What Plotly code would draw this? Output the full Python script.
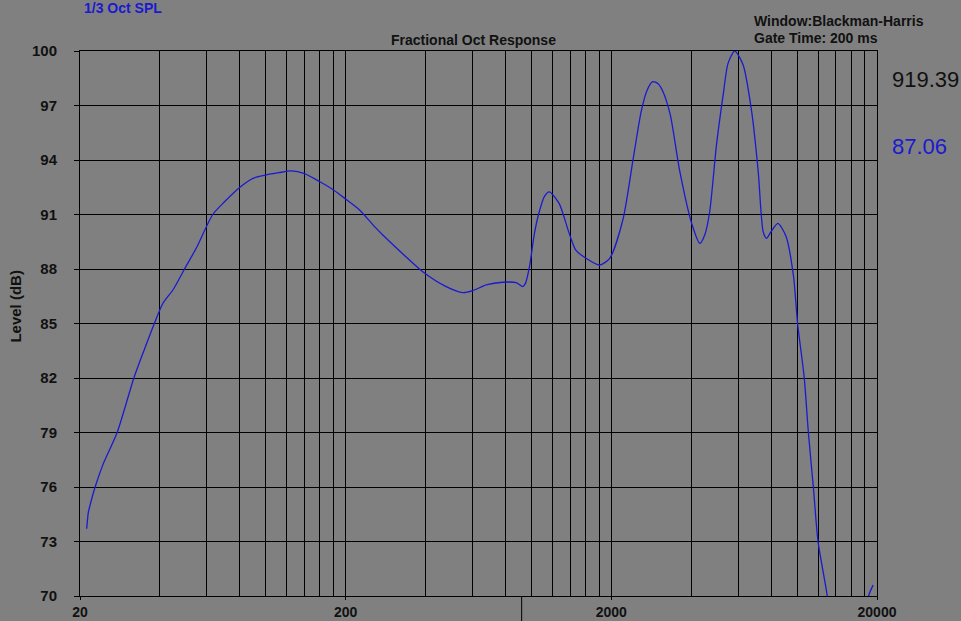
import plotly.graph_objects as go

# frequency (Hz) and level (dB)
freq = [21.2, 21.5, 22.0, 22.8, 24.5, 27.6, 31.9, 35.0, 38.1, 41.0, 45.0, 49.5,
        55.0, 63.2, 70, 80, 90, 100, 112, 125, 140, 160, 180, 200,
        225.6, 257, 276, 330, 390, 478, 552, 602, 676, 780, 877, 928, 950, 984,
        1027, 1071, 1120, 1168, 1272, 1388, 1470, 1606, 1806, 1972, 2214, 2419, 2590,
        2720, 2860, 3000, 3130, 3334, 3622, 4030, 4308, 4500, 4690, 4975, 5272, 5500, 5830, 6268,
        6750, 7144, 7458, 7680, 7980, 8470, 9100, 9700, 10050, 10650, 11040,
        11520, 12000, 12980, 14000, 16000, 18000, 18600, 19340]
level = [73.7, 74.6, 75.2, 76.0, 77.3, 79.0, 82.0, 83.6, 85.0, 86.1, 86.9, 88.0,
         89.2, 91.0, 91.7, 92.5, 93.0, 93.17, 93.3, 93.4, 93.25, 92.8, 92.35, 91.85,
         91.25, 90.33, 89.87, 88.8, 87.85, 87.03, 86.7, 86.81, 87.12, 87.27, 87.25, 87.03, 87.21, 88.13,
         89.96, 91.15, 92.0, 92.25, 91.61, 89.96, 89.04, 88.59, 88.22, 88.59, 90.75, 94.1, 96.66,
         97.8, 98.31, 98.2, 97.76, 96.48, 93.36, 90.42, 89.41, 89.9, 91.15, 94.82, 97.58, 99.32, 100.0, 99.23,
         96.66, 93.36, 90.05, 89.69, 90.05, 90.51, 89.78, 87.6, 85.0, 81.98, 78.95,
         76.0, 72.99, 70.05, 66.0, 63.0, 67.0, 70.0, 70.6]

major_ticks = [20, 200, 2000, 20000]
minor_ticks = [20 * k for k in range(2, 10)] + [200 * k for k in range(2, 10)] + [2000 * k for k in range(2, 10)]
y_ticks = list(range(70, 101, 3))

cursor_freq = 919.39
cursor_level = 87.06

BG = "#808080"
BLUE = "#1a1ad0"
FONT = "Liberation Sans, Arial, sans-serif"


def make_fig():
    fig = go.Figure()
    fig.add_trace(go.Scatter(x=freq, y=level, mode="lines",
                             line=dict(color=BLUE, width=1.3, shape="spline", smoothing=0.7),
                             showlegend=False))

    fig.update_xaxes(type="log", range=[1.30103, 4.30103], automargin=False,
                     tickmode="array", tickvals=major_ticks,
                     ticktext=[str(v) for v in major_ticks],
                     showgrid=True, gridcolor="black", gridwidth=1,
                     showline=True, linecolor="black", linewidth=1, mirror=True,
                     ticks="outside", ticklen=3, tickcolor="black",
                     ticklabelstandoff=0,
                     tickfont=dict(family=FONT, size=14, color="#111111", weight="bold"),
                     minor=dict(tickmode="array", tickvals=minor_ticks, showgrid=True,
                                gridcolor="black", gridwidth=1, ticks=""),
                     zeroline=False)
    fig.update_yaxes(range=[70, 100], automargin=False, tickmode="array", tickvals=y_ticks,
                     showgrid=True, gridcolor="black", gridwidth=1,
                     showline=True, linecolor="black", linewidth=1, mirror=True,
                     ticks="outside", ticklen=5, tickcolor="black",
                     ticklabelstandoff=14,
                     tickfont=dict(family=FONT, size=15, color="#111111", weight="bold"),
                     zeroline=False)

    # cursor mark under the axis
    fig.add_shape(type="line", xref="x", yref="paper", x0=cursor_freq, x1=cursor_freq,
                  y0=0, y1=-0.06, line=dict(color="black", width=1))

    ann = [
        dict(text="Fractional Oct Response", x=0.494, y=1.0202, xanchor="center",
             font=dict(size=14, color="#111111", weight="bold")),
        dict(text="1/3 Oct SPL", x=0.0025, y=1.0789, xanchor="left",
             font=dict(size=14, color=BLUE, weight="bold")),
        dict(text="Window:Blackman-Harris", x=0.843, y=1.055, xanchor="left",
             font=dict(size=14, color="#111111", weight="bold")),
        dict(text="Gate Time: 200 ms", x=0.843, y=1.0239, xanchor="left",
             font=dict(size=14, color="#111111", weight="bold")),
        dict(text="Level (dB)", x=-0.0809, y=0.532, xanchor="center", textangle=-90,
             font=dict(size=15, color="#111111", weight="bold")),
        dict(text="%.2f" % cursor_freq, x=1.0163, y=0.9468, xanchor="left",
             font=dict(size=22, color="#111111")),
        dict(text="%.2f" % cursor_level, x=1.0163, y=0.8239, xanchor="left",
             font=dict(size=22, color=BLUE)),
    ]
    for a in ann:
        a.update(xref="paper", yref="paper", yanchor="middle", showarrow=False)
        a["font"].setdefault("family", FONT)
        fig.add_annotation(**a)

    fig.update_layout(width=961, height=621, paper_bgcolor=BG, plot_bgcolor=BG,
                      margin=dict(l=80, r=84, t=51, b=25),
                      font=dict(family=FONT))
    return fig


fig = make_fig()
# drop the browser's default page margin so the figure sits at the top-left corner
fig.write_html("out.html", config={"displayModeBar": False},
               post_script="document.body.style.margin='0px';")
